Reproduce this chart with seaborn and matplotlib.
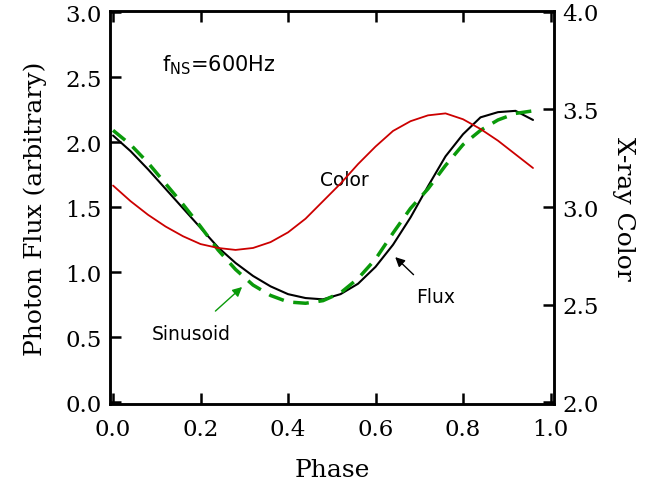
import numpy as np
import pandas as pd
import matplotlib
matplotlib.use("Agg")
import matplotlib.pyplot as plt
import seaborn as sns

sns.set_style("ticks")
plt.rcParams['font.family'] = ['DejaVu Serif']
plt.rcParams['text.color'] = 'black'
plt.rcParams['axes.labelcolor'] = 'black'
plt.rcParams['xtick.color'] = 'black'
plt.rcParams['ytick.color'] = 'black'
plt.rcParams['axes.edgecolor'] = 'black'

# data
phase = [0.00, 0.04, 0.08, 0.12, 0.16, 0.20, 0.24, 0.28, 0.32, 0.36, 0.40, 0.44, 0.48,
         0.52, 0.56, 0.60, 0.64, 0.68, 0.72, 0.76, 0.80, 0.84, 0.88, 0.92, 0.96]
flux = [2.05, 1.93, 1.79, 1.64, 1.49, 1.34, 1.19, 1.07, 0.97, 0.89, 0.83, 0.80, 0.79,
        0.83, 0.91, 1.04, 1.21, 1.42, 1.66, 1.89, 2.06, 2.19, 2.23, 2.24, 2.17]
sinusoid = [2.09, 1.98, 1.84, 1.68, 1.52, 1.35, 1.17, 1.02, 0.90, 0.82, 0.77, 0.76, 0.78,
            0.84, 0.95, 1.10, 1.30, 1.49, 1.64, 1.82, 1.98, 2.09, 2.17, 2.22, 2.24]
color = [3.11, 3.03, 2.96, 2.90, 2.85, 2.81, 2.79, 2.78, 2.79, 2.82, 2.87, 2.94, 3.03,
         3.12, 3.22, 3.31, 3.39, 3.44, 3.47, 3.48, 3.45, 3.40, 3.34, 3.27, 3.20]

x_ticks = [0.0, 0.2, 0.4, 0.6, 0.8, 1.0]
flux_ticks = [0.0, 0.5, 1.0, 1.5, 2.0, 2.5, 3.0]
color_ticks = [2.0, 2.5, 3.0, 3.5, 4.0]

fig = plt.figure(figsize=(6.54, 4.85), dpi=100)
ax = fig.add_axes([110 / 654, 1 - 405 / 485, 444 / 654, 393 / 485])
ax2 = ax.twinx()

sns.lineplot(x=phase, y=flux, ax=ax, color='black', lw=1.5)
sns.lineplot(x=phase, y=sinusoid, ax=ax, color='#0a9a0a', lw=2.5, linestyle=(0, (4.5, 2.8)))
sns.lineplot(x=phase, y=color, ax=ax2, color='#cc0000', lw=1.3)

ax.set_xlim(-0.007, 1.008)
ax.set_ylim(-0.015, 3.008)
ax2.set_ylim(1.990, 4.005)
ax.set_xticks(x_ticks)
ax.set_yticks(flux_ticks)
ax2.set_yticks(color_ticks)
ax.set_xticklabels([f"{t:.1f}" for t in x_ticks])
ax.set_yticklabels([f"{t:.1f}" for t in flux_ticks])
ax2.set_yticklabels([f"{t:.1f}" for t in color_ticks])

for a in (ax, ax2):
    for s in a.spines.values():
        s.set_linewidth(1.8)
        s.set_color('black')
        s.set_visible(True)
ax.tick_params(axis='x', direction='in', top=True, length=8, width=1.8, labelsize=16.5, pad=10)
ax.tick_params(axis='y', direction='in', length=8, width=1.8, labelsize=16.5, pad=6)
ax2.tick_params(axis='y', direction='in', length=8, width=1.8, labelsize=16.5, pad=6)

ax.set_xlabel("Phase", fontsize=18, labelpad=13)
ax.set_ylabel("Photon Flux (arbitrary)", fontsize=18, labelpad=13)
ax2.set_ylabel("X-ray Color", fontsize=18, rotation=270, labelpad=26)

sans = ['DejaVu Sans']
ax.text(0.112, 2.6, r"f$_{\rm NS}$=600Hz", fontsize=15, family=sans, va='center')
ax.text(0.528, 1.715, "Color", fontsize=13.5, family=sans, ha='center', va='center')
ax.annotate("Flux", xy=(0.645, 1.115), xytext=(0.738, 0.815), fontsize=13.5, family=sans,
            ha='center', va='center',
            arrowprops=dict(arrowstyle='-|>', color='black', lw=1, mutation_scale=14,
                            shrinkA=9, shrinkB=0))
ax.annotate("Sinusoid", xy=(0.295, 0.885), xytext=(0.178, 0.53), fontsize=13.5, family=sans,
            ha='center', va='center',
            arrowprops=dict(arrowstyle='-|>', color='#0a9a0a', lw=1, mutation_scale=14,
                            shrinkA=10, shrinkB=0))

fig.savefig("out.png", dpi=100)
